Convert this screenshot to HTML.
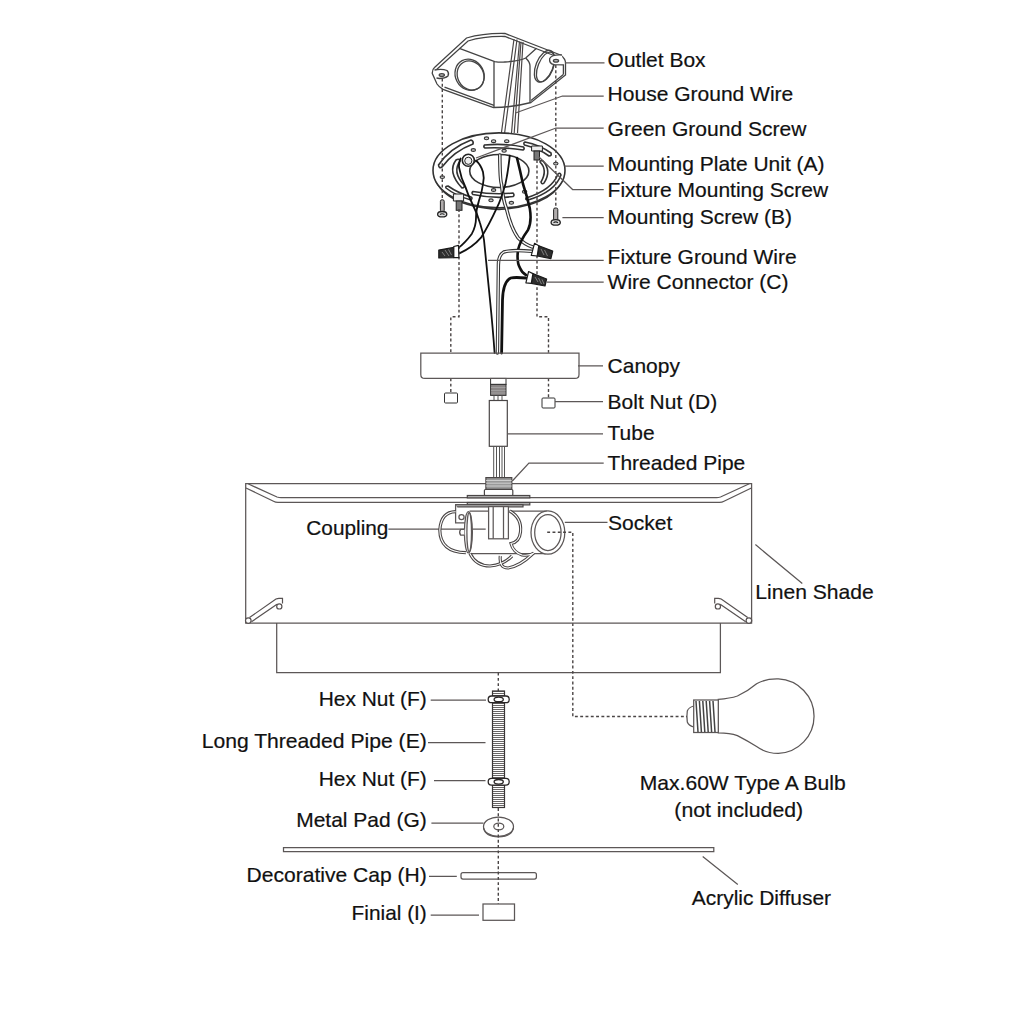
<!DOCTYPE html>
<html><head><meta charset="utf-8">
<style>
html,body{margin:0;padding:0;background:#fff;width:1024px;height:1024px;overflow:hidden}
svg{display:block}
text{font-family:"Liberation Sans",sans-serif;font-size:21px;fill:#111;stroke:#111;stroke-width:0.2px}
.l{stroke:#5c5757;stroke-width:1.25;fill:none}
.d{stroke:#4a4545;stroke-width:1.4;fill:none;stroke-dasharray:2.9 2.4}
</style></head><body>
<svg width="1024" height="1024" viewBox="0 0 1024 1024">
<!-- labels right column -->
<text x="607.6" y="66.7" textLength="98" lengthAdjust="spacingAndGlyphs">Outlet Box</text>
<text x="607.6" y="101.2" textLength="185.7" lengthAdjust="spacingAndGlyphs">House Ground Wire</text>
<text x="607.6" y="135.7" textLength="198.8" lengthAdjust="spacingAndGlyphs">Green Ground Screw</text>
<text x="607.6" y="171.4" textLength="217" lengthAdjust="spacingAndGlyphs">Mounting Plate Unit (A)</text>
<text x="607.6" y="197" textLength="220.5" lengthAdjust="spacingAndGlyphs">Fixture Mounting Screw</text>
<text x="607.6" y="224.2" textLength="184.3" lengthAdjust="spacingAndGlyphs">Mounting Screw (B)</text>
<text x="607.6" y="264.3" textLength="189" lengthAdjust="spacingAndGlyphs">Fixture Ground Wire</text>
<text x="607.6" y="288.7" textLength="180.8" lengthAdjust="spacingAndGlyphs">Wire Connector (C)</text>
<text x="607.6" y="372.8" textLength="72.3" lengthAdjust="spacingAndGlyphs">Canopy</text>
<text x="607.6" y="408.6" textLength="109.6" lengthAdjust="spacingAndGlyphs">Bolt Nut (D)</text>
<text x="607.6" y="440.2" textLength="47" lengthAdjust="spacingAndGlyphs">Tube</text>
<text x="607.6" y="470.1" textLength="137.7" lengthAdjust="spacingAndGlyphs">Threaded Pipe</text>
<text x="306.3" y="534.8" textLength="82.1" lengthAdjust="spacingAndGlyphs">Coupling</text>
<text x="608.1" y="530.2" textLength="64.3" lengthAdjust="spacingAndGlyphs">Socket</text>
<text x="755.3" y="599.1" textLength="118.4" lengthAdjust="spacingAndGlyphs">Linen Shade</text>
<text x="318.7" y="705.6" textLength="108.1" lengthAdjust="spacingAndGlyphs">Hex Nut (F)</text>
<text x="201.7" y="747.8" textLength="225.1" lengthAdjust="spacingAndGlyphs">Long Threaded Pipe (E)</text>
<text x="318.7" y="786" textLength="108.1" lengthAdjust="spacingAndGlyphs">Hex Nut (F)</text>
<text x="296.2" y="826.5" textLength="130.6" lengthAdjust="spacingAndGlyphs">Metal Pad (G)</text>
<text x="246.6" y="882.1" textLength="180.2" lengthAdjust="spacingAndGlyphs">Decorative Cap (H)</text>
<text x="351.6" y="920" textLength="75.2" lengthAdjust="spacingAndGlyphs">Finial (I)</text>
<text x="639.7" y="789.9" textLength="206" lengthAdjust="spacingAndGlyphs">Max.60W Type A Bulb</text>
<text x="674.3" y="816.5" textLength="128.9" lengthAdjust="spacingAndGlyphs">(not included)</text>
<text x="691.8" y="905.2" textLength="139.2" lengthAdjust="spacingAndGlyphs">Acrylic Diffuser</text>

<!-- outlet box -->
<g class="l" style="stroke:#444;stroke-width:1.3">
<path d="M432.3,73.5 Q432,69.5 434.5,67.5 L466.5,38 Q484,33 505,33.5 L560.5,55 Q566,59 565.5,64 L565.5,75 L531,102.5 Q512,107.5 493.5,107.5 L443,89.4 Q439,87 437,84 Z"/>
<path d="M435.5,70.5 L468,41 Q484,36 505,36.5 L559,57.5"/>
<path d="M444.5,87.2 L494,105.3 M531,100.5 L563.4,74.5"/>
<path d="M459.4,48.3 L494.7,61.6 Q500,62.5 505,62 Q520,61 525.7,58 L536.5,48.3"/>
<path d="M494,62 V107 M525.7,58 Q530,62 530,66 V102"/>
<ellipse cx="469.6" cy="74.8" rx="14.2" ry="16" transform="rotate(-28 469.6 74.8)"/>
<ellipse cx="470.6" cy="75.5" rx="13" ry="15" transform="rotate(-28 470.6 75.5)"/>
<ellipse cx="544.4" cy="66.2" rx="8.5" ry="16.8" transform="rotate(22 544.4 66.2)"/>
<ellipse cx="545.6" cy="67" rx="7.6" ry="15.8" transform="rotate(22 545.6 67)"/>
<path d="M434.5,70 Q442,68.5 447,70.5 Q449.5,73 448,76 Q445,78.5 439.5,78.5 L436.5,78" fill="#fff"/>
<ellipse cx="441.8" cy="75" rx="2.6" ry="1.4" fill="#bbb"/>
<path d="M562,55 Q552,54.3 549.7,58.5 Q548.8,63.5 554,64.6 L563.4,64.8 V74.5" fill="#fff"/>
<ellipse cx="556" cy="60.8" rx="2.6" ry="1.4" fill="#bbb"/>
</g>
<g fill="none" stroke="#4a4646" stroke-width="1.2">
<path d="M514,39 L501.4,133 M517,39.5 L504.6,133 M519.5,41.5 L511.5,133 M521,41.8 L514.2,133 M523,42 L517.5,133"/>
</g>
<!-- mounting plate -->
<g class="l" style="stroke-width:1.6;stroke:#333">
<path d="M434,174 Q440,205 499,209.5 Q558,205 564,174" fill="#fff"/><ellipse cx="499" cy="170.4" rx="66" ry="37.5" fill="#fff"/>
<ellipse cx="499.3" cy="171" rx="29.6" ry="16.5"/>
<path d="M438.5,165 Q450,148 471,140 Q474,141 473,144 Q454,151 442,167 Q439,169 438.5,165Z"/>
<path d="M484.5,145 Q504,143 523.5,147 Q525,149 523,150 Q504,147 485,148 Q483,147 484.5,145Z"/>
<path d="M525,142 Q540,145 551,153 Q552,156 549,156 Q540,149 524.5,145 Q523,143 525,142Z"/>
<path d="M456,160 Q447,172 462,188 Q465,188 464,185 Q452,172 460,161 Q459,158 456,160Z"/>
<path d="M540,162 Q548,170 541,182 Q542,185 544,183 Q552,171 543,161 Q540,160 540,162Z"/>
<path d="M446,188 Q456,196 471,200 Q473,198 471,197 Q458,193 448,186 Q445,186 446,188Z"/>
<path d="M473,191.5 Q494,195 513,193 Q515,195 513,196.5 Q494,199 473,194.5 Q471,193 473,191.5Z"/>
<path d="M558,174 Q552,190 526,198 Q525,200 528,200 Q555,192 561,175 Q560,172 558,174Z"/>
</g>
<g fill="#ccc" stroke="#333" stroke-width="1.1">
<ellipse cx="486.5" cy="138.3" rx="2.2" ry="1.4"/><ellipse cx="493.6" cy="141.2" rx="2.2" ry="1.4"/><ellipse cx="506.7" cy="141.2" rx="2.2" ry="1.4"/>
<ellipse cx="473.3" cy="150" rx="2.2" ry="1.4"/><ellipse cx="504.1" cy="150.8" rx="2.2" ry="1.4"/><ellipse cx="555.8" cy="163.6" rx="2.2" ry="1.4"/>
<ellipse cx="442.3" cy="177.1" rx="2.2" ry="1.4"/><ellipse cx="493.6" cy="190" rx="2.2" ry="1.4"/><ellipse cx="491" cy="200.3" rx="2.2" ry="1.4"/>
<ellipse cx="511.4" cy="202.8" rx="2.2" ry="1.4"/><ellipse cx="524.6" cy="191.8" rx="2.2" ry="1.4"/>
</g>
<!-- screws -->
<g stroke="#222" stroke-width="1">
<circle cx="468.3" cy="160.2" r="6" fill="#fff" stroke-width="1.6"/><circle cx="468.3" cy="160.8" r="3.6" fill="#eee"/>
<path d="M531.6,146 L542.4,146 L542.4,151 L531.6,151Z" fill="#eee"/>
<rect x="534" y="151" width="5.5" height="9" fill="#777"/>
<path d="M453.4,194 L463.6,194 L463.6,201 L453.4,201Z" fill="#eee"/>
<rect x="456.2" y="201" width="5.8" height="9.3" fill="#777"/>
<rect x="440.4" y="199.8" width="3.8" height="12" rx="1.5" fill="#b0acac"/>
<ellipse cx="442.2" cy="214.2" rx="4.6" ry="2.7" fill="#ddd" stroke-width="1.3"/><path d="M440,214.5 Q442,213 444.5,214.5" stroke="#222" stroke-width="1.2" fill="none"/>
<rect x="553.6" y="208" width="4.2" height="13" rx="1.5" fill="#b0acac"/>
<ellipse cx="555.7" cy="222.4" rx="4.6" ry="2.7" fill="#ddd" stroke-width="1.3"/><path d="M553.5,222.7 Q555.7,221.2 558,222.7" stroke="#222" stroke-width="1.2" fill="none"/>
</g>
<!-- wires -->
<g fill="none" stroke-linecap="round" stroke-linejoin="round">
<path d="M499.8,155 Q500,180 501.5,184 Q503,200 506.4,208.4 Q511,228 518,237.7 Q524,244 532.5,247" stroke="#333" stroke-width="3.6"/>
<path d="M499.8,155 Q500,180 501.5,184 Q503,200 506.4,208.4 Q511,228 518,237.7 Q524,244 532.5,247" stroke="#fff" stroke-width="1.4"/>
<path d="M509.8,155.6 Q508,172 505.4,184 Q501,200 496.6,208.4 Q489,225 481,237.7 Q472,248 459.4,253.3" stroke="#111" stroke-width="1.8"/>
<path d="M517,158 Q520,170 523,184 Q527,196 529.8,208.4 Q532,222 528,230 Q520,241 518,250 Q516.5,262 520,268 Q522,273 526,275" stroke="#111" stroke-width="2.6"/>
<path d="M531.9,251.3 Q512,249.5 503.8,252 Q498.4,255 498.4,265 Q497.5,330 497.4,353" stroke="#333" stroke-width="3.4"/>
<path d="M531.9,251.3 Q512,249.5 503.8,252 Q498.4,255 498.4,265 Q497.5,330 497.4,353" stroke="#fff" stroke-width="1.3"/>
<path d="M526,278 Q515,277 510.7,278 Q503,282 502.5,300 L501.6,353" stroke="#111" stroke-width="2.8"/>
<path d="M460.5,158.5 Q458,165 459.5,169.3 Q461,178 465.4,186.9 Q468,195 472.2,203.5 Q477,213 480,223 Q483,232 484,240 Q488,280 490,300 Q493,330 494.6,353" stroke="#111" stroke-width="1.8"/>
<path d="M476,160.5 Q481,165 483,172 Q484.5,178 483,184 Q482,192 479,200.5 Q476,210 476,218 Q476,226 471.9,233.7 Q465,243 458.2,248" stroke="#111" stroke-width="1.8"/>
</g>
<!-- dashed plate lines -->
<path class="d" d="M442.3,78.5 V198 M555.8,65 V206 M459,209 V316.8 H450.8 V353 M450.8,378.4 V393 M537,160 V316.8 H548.5 V353 M548.5,378.4 V398"/>
<!-- connectors -->
<g stroke="#1a1a1a" stroke-width="1.2" stroke-linejoin="round">
<path d="M438.8,250.1 L453.8,247.4 L453.8,257.6 L438.8,258Z" fill="#2e2e2e"/>
<path d="M453.8,246.5 L458.5,245.3 L458.9,257.6 L453.8,257.6Z" fill="#fff"/>
<path d="M538.8,245.7 L552.7,251.1 L550.9,258.6 L537.2,256Z" fill="#2e2e2e"/>
<path d="M534.5,243.3 L538.8,245.7 L537.2,256 L531.3,255.4Z" fill="#fff"/>
<path d="M532.9,273.6 L546.6,279 L545,286 L531.3,283.3Z" fill="#2e2e2e"/>
<path d="M528.6,271.5 L532.9,273.6 L531.3,283.3 L525.9,282.8Z" fill="#fff"/>
</g>
<path d="M442,252 L445,256 M445,250 L449,256 M448.5,249.5 L451.5,255 M541,249 L544,255 M544.5,250 L547.5,256 M535,277 L538,282 M538.5,278 L541.5,284 M542,279.5 L544,284" stroke="#888" stroke-width="0.9"/>
<!-- canopy fittings -->
<g stroke="#333" stroke-width="1">
<rect x="490.6" y="378.4" width="15.4" height="6" fill="#fff"/>
<rect x="490.6" y="384.4" width="15.4" height="11" fill="#8a8686"/><path d="M491,387.5H505.5 M491,390.5H505.5 M491,393H505.5" stroke="#aaa" stroke-width="0.7"/>
<rect x="444.5" y="393" width="13" height="10" rx="1" fill="#fff"/>
<rect x="542" y="398" width="13" height="10" rx="1" fill="#fff"/>
</g>
<path d="M494,395.5V400.5 M498,395.5V400.5 M502,395.5V400.5" stroke="#555" stroke-width="1"/>
<!-- canopy -->
<path class="l" d="M420.8 353H579V374.4Q579 378.4 575 378.4H424.8Q420.8 378.4 420.8 374.4Z"/>
<!-- shade -->
<path class="l" d="M245.7 483.5H751.6V623H245.7Z M276.7 623V672.6H720.4V623"/>
<path class="l" d="M248,483.8 L277,497 Q279,497.6 281,497.6 H716.5 Q718.5,497.6 720.5,497 L749.3,483.8 M246,488 L273.5,501.2 Q275.5,502.3 278,502.3 H719.5 Q722,502.3 724,501.2 L751.4,488"/>
<!-- shade brackets -->
<g fill="none" stroke="#585252" stroke-width="1.2">
<path d="M249.5,617.5 L276,599 Q277.5,598.3 279,598.3 H282.5 V603.5 M251.5,621.8 L277,604.2"/>
<path d="M747.7,617.5 L721.2,599 Q719.7,598.3 718.2,598.3 H714.7 V603.5 M745.7,621.8 L720.2,604.2"/>
</g>
<g stroke="#585252" stroke-width="1.2" fill="#fff">
<circle cx="248.3" cy="620.6" r="2.8"/><circle cx="279.3" cy="606.4" r="2.6"/>
<circle cx="748.9" cy="620.6" r="2.8"/><circle cx="717.9" cy="606.4" r="2.6"/>
</g>
<!-- diffuser -->
<path class="l" d="M283.5 847.7H713.8V851.7H283.5Z"/>
<!-- threaded pipe -->
<path class="d" d="M498.3,672.6V691"/>
<defs><pattern id="thr" x="0" y="691" width="20" height="2" patternUnits="userSpaceOnUse"><rect width="20" height="2" fill="#fff"/><rect y="0" width="20" height="1" fill="#6a6666"/></pattern></defs>
<rect x="492.5" y="691" width="12" height="116.5" fill="url(#thr)" stroke="#3a3636" stroke-width="1.2"/>
<g stroke="#2a2626" stroke-width="1.3" fill="#fff">
<rect x="488.2" y="696" width="21" height="6.7" rx="3.3"/>
<ellipse cx="498.7" cy="699.4" rx="4.6" ry="2.3"/>
<rect x="488.2" y="778.4" width="21" height="6.7" rx="3.3"/>
<ellipse cx="498.7" cy="781.8" rx="4.6" ry="2.3"/>
</g>
<g class="l" fill="#fff">
<ellipse cx="498.5" cy="826.7" rx="15" ry="9.7" fill="#fff"/>
<path d="M483.6,828 Q485,836.5 498.5,837 Q512,836.5 513.4,828"/>
<ellipse cx="498.8" cy="826.5" rx="5" ry="3.4"/>
<rect x="461" y="872.5" width="75.4" height="6.5" rx="2" fill="#fff"/>
<rect x="483" y="904" width="31.5" height="16.3" fill="#fff"/>
</g>
<path class="d" d="M498.3,808V904"/>
<!-- bulb -->
<g class="l" fill="#fff">
<path d="M718.3,699.4 Q730,698.5 737.4,696 Q748,691 756.6,683.7 Q766,678.5 778.4,678.9 A37.6,37.3 0 0 1 778.4,753.4 Q766,753.5 756.6,746.6 Q748,741 737.4,735.6 Q730,733 718.3,732.9Z"/>
<path d="M693.7,706 Q688.5,707.5 687.3,711 Q686.5,716.5 687.3,722 Q688.5,725.5 693.7,727"/>
<rect x="693.7" y="700" width="24.6" height="32.5" fill="#fff"/>
</g>
<path d="M696,701L698,732 M699.4,701L701.4,732 M702.8,701L704.8,732 M706.2,701L708.2,732 M709.6,701L711.6,732 M713,701L715,732" stroke="#444" stroke-width="1.5"/>
<!-- bottom leaders -->
<path class="l" d="M430.7 700H486 M428 742.7H485.5 M434 780.5H485.5 M431.4 823H483.5 M429 876.3H456.8 M430.7 915H479 M702.7 856.6L737.8 884.4 M755.4 544.6L802.3 583.5 M388.4 529H485.7 M564.8 522.3H607.5"/>
<!-- assembly -->
<g stroke="#4a4646" stroke-width="1.2" fill="#fff">
<rect x="489.3" y="400.5" width="18" height="45.8"/>
</g>
<path d="M493.7,446V477.6 M496.5,446V477.6 M499.5,446V477.6 M502,446V477.6 M504.5,446V477.6" stroke="#555" stroke-width="1"/>
<g stroke="#4a4646" stroke-width="1.2">
<rect x="485.9" y="477.6" width="25.9" height="11.7" fill="#999"/>
<path d="M486,480.5H511.7 M486,483.2H511.7 M486,486H511.7" stroke="#ddd" stroke-width="0.8"/>
<rect x="484.4" y="489.5" width="28.4" height="6" rx="1" fill="#fff"/>
<rect x="467.3" y="495.5" width="62.5" height="2.4" fill="#bbb"/>
<rect x="467.3" y="502.5" width="62.5" height="2.4" fill="#bbb"/>
<rect x="455.6" y="504.7" width="67.4" height="2.2" fill="#bbb"/>
</g>
<g class="l">
<path d="M455.6,504.7V522.8H466.6" fill="#fff"/>
<circle cx="461.5" cy="517.1" r="2.6"/>
<path d="M469.5,511H547 M469.5,553.5H546" />
</g>
<g fill="none" stroke-linecap="round">
<path id="w1" d="M455.6,511.7 Q441,512 439.8,530 Q440,552 465.9,552.7"/>
<path id="w2" d="M470,553.5 Q476,566 490,566 Q503,565 512,556"/>
<path id="w3" d="M500.3,556 Q499,568 508,568 Q520,566 532.5,554"/>
<path id="w4" d="M509.8,511 Q522,518 520.5,532 Q519.5,542 511,543.5 Q513,552 522,555 Q530,556 534,553"/>
</g>
<g fill="none" stroke="#4a4646" stroke-width="3.2"><use href="#w1"/><use href="#w2"/><use href="#w3"/><use href="#w4"/></g>
<g fill="none" stroke="#fff" stroke-width="1.1"><use href="#w1"/><use href="#w2"/><use href="#w3"/><use href="#w4"/></g>
<g class="l">
<ellipse cx="468.4" cy="532.2" rx="4" ry="20.7" fill="#fff"/>
<ellipse cx="469.2" cy="532.2" rx="2.3" ry="19.5"/>
<path d="M464.4,529.3H460.6Q458.6,532.2 460.6,535.2H464.4" fill="#fff"/>
<ellipse cx="547.9" cy="532.6" rx="16.9" ry="21.6" fill="#fff"/>
<ellipse cx="547.9" cy="532.5" rx="13.2" ry="18"/>
<rect x="488.6" y="506.6" width="19.8" height="32.2" fill="#fff"/>
<path d="M493.2,506.6V538.8 M503.5,506.6V538.8"/>
</g>

<path class="d" d="M547.2,532.2H572.8V716.5H687"/>
<!-- leaders -->
<path class="l" d="M565 62.8H604.5 M515.5 113L562.4 96H603.7 M476 158L556 128H603.7 M564.5 166H603.7 M539 157L572.6 189.5H603.7 M562.4 217.5H603.7 M488 260.3H603.7 M546.7 282H603.7 M578 365.8H603 M555 401.5H603 M507 433.8H603 M512.3,481L528.9,463H603.7"/>

</svg>
</body></html>
